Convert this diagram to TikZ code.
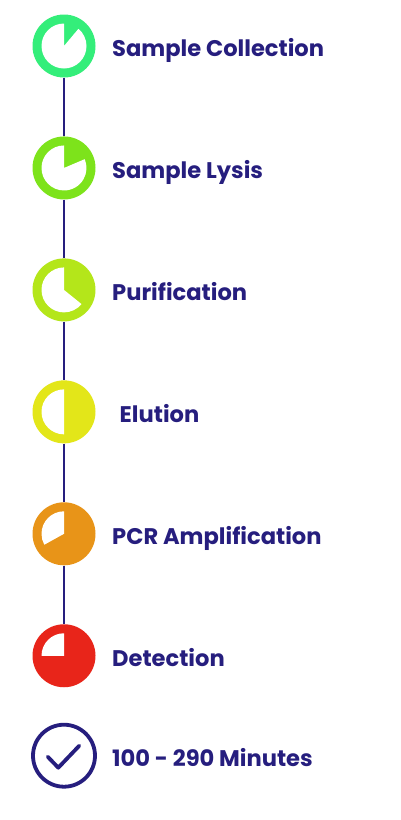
\documentclass[tikz,border=0pt]{standalone}
\usepackage{fontspec}
\usetikzlibrary{calc}
\newfontfamily\lblfont{Poppins}
\definecolor{navy}{HTML}{261E7E}
\definecolor{cA}{HTML}{34EE7A}
\definecolor{cB}{HTML}{7DE31B}
\definecolor{cC}{HTML}{B4E61A}
\definecolor{cD}{HTML}{E3E619}
\definecolor{cE}{HTML}{E89418}
\definecolor{cF}{HTML}{E8251A}
\begin{document}
\begin{tikzpicture}[x=1pt,y=-1pt,
  stepdot/.style={circle, inner sep=0pt, minimum size=63pt, draw=none},
  lbl/.style={anchor=base west, inner sep=0pt, text=navy, font=\lblfont\bfseries\fontsize{22.6}{26}\selectfont},
  link/.style={draw=navy, line width=1.8pt}]
\useasboundingbox[fill=white] (0,0) rectangle (401,820);
% step circles (y axis points down, so angles are mirrored)
\foreach \i/\y/\c/\a in {1/46/cA/-410, 2/167.95/cB/-383, 3/289.9/cC/-321, 4/411.85/cD/-270, 5/533.8/cE/-209, 6/655.75/cF/-180}{
  \node[stepdot, fill=\c] (s\i) at (64,\y) {};
  \fill[white] (s\i.center) -- ++(-90:22.5) arc[start angle=-90, end angle=\a, radius=22.5] -- cycle;
}
% connectors
\draw[link] (s1.south) -- (s2.north);
\draw[link] (s2.south) -- (s3.north);
\draw[link] (s3.south) -- (s4.north);
\draw[link] (s4.south) -- (s5.north);
\draw[link] (s5.south) -- (s6.north);
% final check
\node[circle, inner sep=0pt, minimum size=62pt, draw=navy, line width=3.8pt] (done) at (64,755.7) {};
\coordinate (k1) at ($(done.center)+(-16.3,1)$);
\coordinate (k2) at ($(done.center)+(-5.7,12)$);
\coordinate (k3) at ($(done.center)+(15.3,-10)$);
\draw[navy, line width=3.8pt, line cap=round, line join=round] (k1) -- (k2) -- (k3);
% labels
\node[lbl] (t1) at (112,56.5) {Sample Collection};
\node[lbl] (t2) at (112,178.5) {Sample Lysis};
\node[lbl] (t3) at (112,300.5) {Purification};
\node[lbl] (t4) at (119.5,422.5) {Elution};
\node[lbl] (t5) at (112,544.5) {PCR Amplification};
\node[lbl] (t6) at (112,666.5) {Detection};
\node[lbl] (t7) at (112,766.2) {100 - 290 Minutes};
\end{tikzpicture}
\end{document}
